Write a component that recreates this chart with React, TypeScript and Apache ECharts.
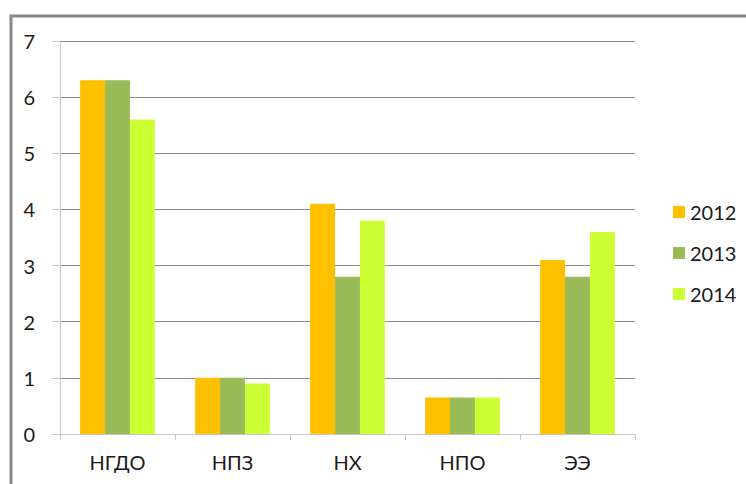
import React, { useEffect, useRef } from "react";
import * as echarts from "echarts";

const categories = ["НГДО", "НПЗ", "НХ", "НПО", "ЭЭ"];
const yearNames = ["2012", "2013", "2014"];
const values2012 = [6.3, 1.0, 4.1, 0.65, 3.1];
const values2013 = [6.3, 1.0, 2.8, 0.65, 2.8];
const values2014 = [5.6, 0.9, 3.8, 0.65, 3.6];
const colors = ["#FFC000", "#9BBB59", "#CCFF33"];

export default function App() {
  const ref = useRef<HTMLDivElement>(null);
  useEffect(() => {
    if (!ref.current) return;
    const chart = echarts.init(ref.current, null, { renderer: "svg" });
    const font = "Lato, 'Liberation Sans', sans-serif";
    const seriesData = [values2012, values2013, values2014];
    chart.setOption({
      animation: false,
      backgroundColor: "#ffffff",
      textStyle: { fontFamily: font },
      grid: { left: 60, right: 111, top: 41, bottom: 50 },
      legend: {
        orient: "vertical",
        left: 668,
        top: 197,
        itemWidth: 12,
        itemHeight: 12,
        itemGap: 21,
        icon: "rect",
        textStyle: { fontSize: 20, color: "#1a1a1a", fontFamily: font, lineHeight: 20 },
        data: yearNames,
      },
      xAxis: {
        type: "category",
        data: categories,
        axisLine: { lineStyle: { color: "#c8c8c8", width: 1 } },
        axisTick: { show: true, length: 6, lineStyle: { color: "#c8c8c8" } },
        axisLabel: { fontSize: 20, color: "#1a1a1a", margin: 18, fontFamily: font },
      },
      yAxis: {
        type: "value",
        min: 0,
        max: 7,
        interval: 1,
        axisLine: { show: true, lineStyle: { color: "#c8c8c8", width: 1 } },
        axisTick: { show: true, length: 8, lineStyle: { color: "#c8c8c8" } },
        splitLine: { lineStyle: { color: "#8c8c8c", width: 1 } },
        axisLabel: { fontSize: 20, color: "#1a1a1a", margin: 25, fontFamily: font },
      },
      series: yearNames.map((name, i) => ({
        name,
        type: "bar",
        data: seriesData[i],
        barGap: "0%",
        barCategoryGap: "35%",
        itemStyle: { color: colors[i] },
      })),
      graphic: [
        {
          type: "polyline",
          shape: { points: [[11, 484], [11, 16], [746, 16]] },
          style: { stroke: "#888888", lineWidth: 3, fill: "none" },
          silent: true,
        },
      ],
    });
    return () => chart.dispose();
  }, []);
  return (
    <div
      ref={ref}
      style={{ position: "fixed", left: 0, top: 0, width: 746, height: 484 }}
    />
  );
}
